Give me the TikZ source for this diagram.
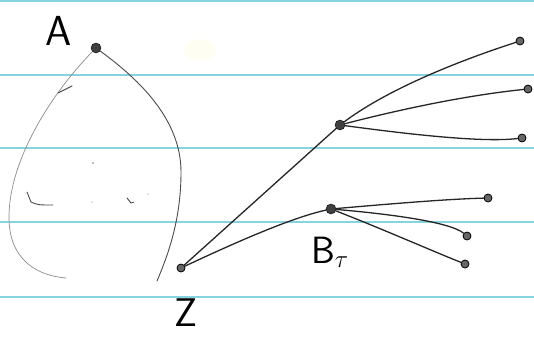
\documentclass[tikz,border=0pt]{standalone}
\begin{document}
\begin{tikzpicture}[x=1pt,y=-1pt,
  ruled/.style={draw={rgb,255:red,135;green,212;blue,224}, line width=1.6pt},
  hub/.style={circle, fill=black!75, draw=black, inner sep=0pt, minimum size=10pt},
  leaf/.style={circle, fill=black!60, draw=black, line width=0.8pt, inner sep=0pt, minimum size=8pt},
  ink/.style={draw=black!85, line width=1.3pt, line cap=round},
  pencil/.style={draw=black!45, line width=0.7pt, line cap=round},
  hand/.style={font=\sffamily\fontsize{42}{44}\selectfont, inner sep=0pt}]
\useasboundingbox (0,0) rectangle (534,337);
\fill[white] (0,0) rectangle (534,337);
% paper lines
\foreach \yy in {1,75,148,222,297} \draw[ruled] (0,\yy) -- (534,\yy);
\fill[yellow!5] (200,50) ellipse (16pt and 11pt);
% nodes
\node[hub] (A) at (96,48) {};
\node[leaf] (Z) at (181,268) {};
\node[hub] (H1) at (340,125) {};
\node[hub] (H2) at (331,209) {};
\node[leaf] (u1) at (520,41) {};
\node[leaf] (u2) at (528,89) {};
\node[leaf] (u3) at (522,138) {};
\node[leaf] (l1) at (488,198) {};
\node[leaf] (l2) at (467,236) {};
\node[leaf] (l3) at (465,264) {};
\coordinate (rend) at (157,281);
\coordinate (lend) at (66,278);
% labels
\node[hand] (la) at (59,31) {A};
\node[hand, font=\sffamily\fontsize{40}{42}\selectfont] (lz) at (186,313) {Z};
\node[hand, font=\sffamily\fontsize{38}{40}\selectfont] (lb) at (330,252) {B$_\tau$};
% the loop from A
\draw[ink, line width=0.9pt, draw=black!70] (A) .. controls (140,80) and (181,120) .. (181,172)
      .. controls (181,220) and (168,255) .. (rend);
\draw[pencil] (A) .. controls (50,95) and (10,160) .. (9,215)
      .. controls (8,262) and (40,276) .. (lend);
% marks inside
\draw[pencil, draw=black!70, line width=0.9pt] (58,93) -- (72,86);
\draw[pencil, draw=black!70, line width=0.9pt] (27,192) -- (31,202) .. controls (38,205) .. (53,205);
\draw[pencil, draw=black!70, line width=0.9pt] (127,198) -- (131,203) -- (134,202);
\fill[black!50] (93,163) circle (0.8pt) (92,202) circle (0.6pt) (148,194) circle (0.6pt);
% connectors from Z
\draw[ink] (Z) -- (H1);
\draw[ink] (Z) .. controls (230,245) and (290,218) .. (H2);
% upper fan
\draw[ink] (H1) .. controls (380,95) and (440,67) .. (u1);
\draw[ink] (H1) .. controls (390,112) and (460,96) .. (u2);
\draw[ink] (H1) .. controls (400,133) and (480,143) .. (u3);
% lower fan
\draw[ink] (H2) .. controls (400,203) and (450,199) .. (l1);
\draw[ink] (H2) .. controls (390,214) and (450,222) .. (l2);
\draw[ink] (H2) .. controls (380,228) and (430,250) .. (l3);
\end{tikzpicture}
\end{document}
